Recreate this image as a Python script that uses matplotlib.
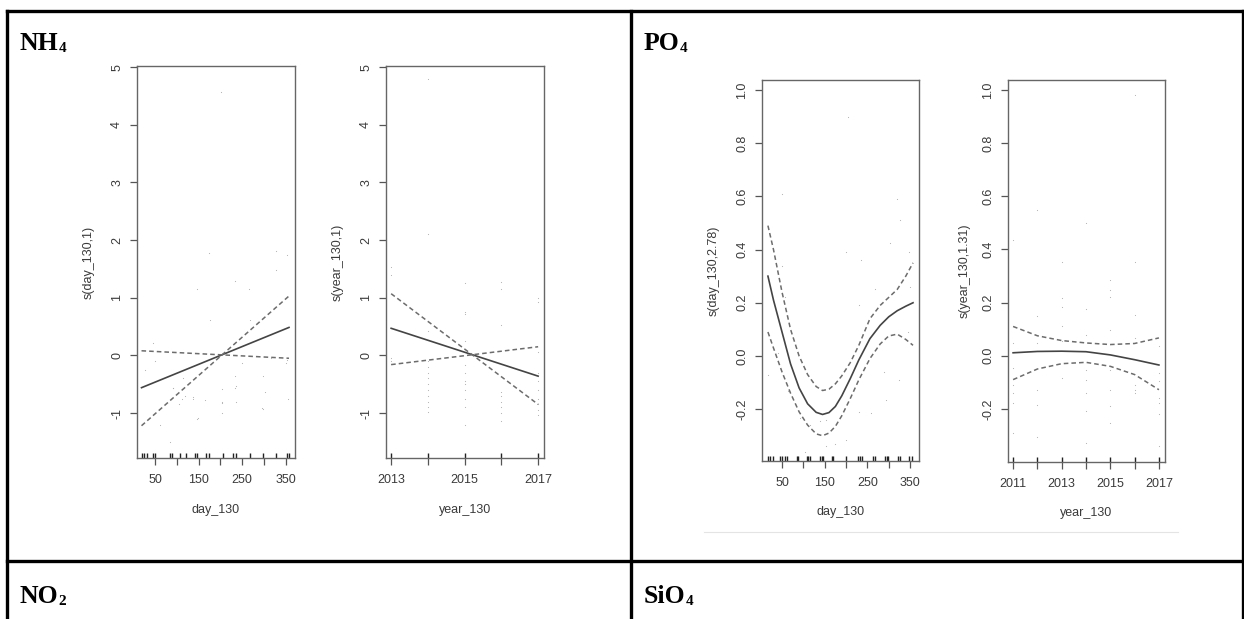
import matplotlib.pyplot as plt

W, H = 1244, 619

# ---- NH4 : s(day_130,1) ----
nh4_day_x = [19, 358]
nh4_day_fit = [-0.56, 0.485]
nh4_day_se1 = [-1.22, 1.03]
nh4_day_se2 = [0.08, -0.05]
nh4_day_res_x = [202, 175, 146, 234, 267, 328, 353, 328, 177, 268, 46, 50, 27, 92, 114, 138, 166,
                 203, 149, 61, 84, 205, 234, 234, 237, 251, 299, 303, 298, 353, 356, 351, 317,
                 146, 91, 106, 111, 120, 137, 205, 205, 236, 296]
nh4_day_res_y = [4.57, 1.77, 1.16, 1.29, 1.15, 1.81, 1.75, 1.48, 0.61, 0.61, 0.21, -0.10, -0.25, -0.56,
                 -0.40, -0.73, -0.77, -1.00, -1.09, -1.21, -1.50, -0.80, -0.56, -0.35, -0.80, -0.14,
                 -0.35, -0.63, -0.93, -0.08, -0.75, -0.14, -0.04, -1.10, -0.56, -0.85, -0.75, -0.70,
                 -0.75, -0.58, -0.83, -0.53, -0.92]
nh4_day_rug = [19, 25, 31, 46, 50, 84, 88, 107, 121, 142, 147, 167, 173, 206, 230, 236, 268, 299,
               328, 353, 357]

# ---- NH4 : s(year_130,1) ----
nh4_year_x = [2013, 2017]
nh4_year_fit = [0.47, -0.36]
nh4_year_se1 = [1.07, -0.85]
nh4_year_se2 = [-0.16, 0.15]
nh4_year_res_x = [2013] * 5 + [2014] * 13 + [2015] * 12 + [2016] * 9 + [2017] * 10
nh4_year_res_y = [1.54, 1.40, -0.04, -0.10, -0.15,
                  4.80, 2.11, 0.42, -0.10, -0.20, -0.30, -0.40, -0.50, -0.60, -0.70, -0.80, -0.90, -0.98,
                  1.25, 0.72, 0.75, 0.25, -0.16, -0.30, -0.45, -0.50, -0.60, -0.75, -0.90, -1.20,
                  1.27, 1.16, 0.52, -0.63, -0.70, -0.80, -0.90, -1.00, -1.13,
                  0.99, 0.92, 0.06, -0.30, -0.45, -0.60, -0.75, -0.85, -0.95, -1.03]
nh4_year_rug = [2013, 2014, 2015, 2016, 2017]

# ---- PO4 : s(day_130,2.78) ----
po4_day_x = [17, 30, 50, 70, 90, 110, 130, 145, 160, 175, 190, 210, 230, 256, 280, 300, 320, 340, 357]
po4_day_fit = [0.30, 0.21, 0.09, -0.03, -0.12, -0.18, -0.212, -0.22, -0.213, -0.19, -0.15, -0.085,
               -0.015, 0.065, 0.115, 0.147, 0.17, 0.187, 0.20]
po4_day_up = [0.49, 0.40, 0.24, 0.10, 0.0, -0.07, -0.115, -0.13, -0.125, -0.105, -0.075, -0.025,
              0.04, 0.14, 0.19, 0.22, 0.25, 0.30, 0.35]
po4_day_lo = [0.09, 0.03, -0.06, -0.14, -0.21, -0.26, -0.293, -0.30, -0.29, -0.265, -0.225, -0.16,
              -0.09, -0.01, 0.045, 0.075, 0.082, 0.062, 0.04]
po4_day_res_x = [51, 205, 18, 49, 57, 201, 236, 230, 267, 302, 319, 327, 347, 349, 345, 325, 294,
                 290, 259, 230, 201, 174, 154, 104, 92, 65, 41, 154, 138, 115]
po4_day_res_y = [0.61, 0.90, -0.07, 0.34, 0.22, 0.39, 0.36, 0.19, 0.25, 0.425, 0.59, 0.51, 0.39,
                 0.26, 0.09, -0.09, -0.165, -0.06, -0.215, -0.21, -0.315, -0.33, -0.34, -0.36,
                 -0.235, -0.13, 0.01, -0.24, -0.245, -0.26]
po4_day_rug = [18, 23, 30, 45, 51, 57, 62, 84, 88, 108, 112, 116, 139, 143, 147, 166, 170, 201,
               229, 233, 238, 264, 269, 291, 295, 299, 322, 326, 348, 354]

# ---- PO4 : s(year_130,1.31) ----
po4_year_x = [2011, 2012, 2013, 2014, 2015, 2016, 2017]
po4_year_fit = [0.011, 0.016, 0.017, 0.015, 0.003, -0.015, -0.035]
po4_year_up = [0.11, 0.075, 0.057, 0.048, 0.042, 0.046, 0.067]
po4_year_lo = [-0.09, -0.05, -0.03, -0.025, -0.04, -0.071, -0.128]
po4_year_res_x = [2011] * 7 + [2012] * 6 + [2013] * 6 + [2014] * 8 + [2015] * 8 + [2016] * 7 + [2017] * 7
po4_year_res_y = [0.435, 0.048, -0.046, -0.109, -0.14, -0.178, -0.29,
                  0.548, 0.15, 0.048, -0.128, -0.184, -0.305,
                  0.354, 0.216, 0.185, 0.11, 0.055, -0.084,
                  0.50, 0.175, 0.079, -0.053, -0.09, -0.14, -0.209, -0.33,
                  0.285, 0.248, 0.22, 0.098, -0.053, -0.128, -0.19, -0.253,
                  0.98, 0.354, 0.154, 0.066, -0.109, -0.128, -0.14,
                  0.035, -0.065, -0.096, -0.159, -0.178, -0.221, -0.34]
po4_year_rug = [2011, 2012, 2013, 2014, 2015, 2016, 2017]

day_ticks = [50, 100, 150, 200, 250, 300, 350]
day_ticklabels = ["50", "", "150", "", "250", "", "350"]
nh4_yticks = [-1, 0, 1, 2, 3, 4, 5]
nh4_yticklabels = ["-1", "0", "1", "2", "3", "4", "5"]
po4_yticks = [-0.2, 0.0, 0.2, 0.4, 0.6, 0.8, 1.0]
po4_yticklabels = ["-0.2", "0.0", "0.2", "0.4", "0.6", "0.8", "1.0"]

TXT = "#3a3a3a"
plt.rcParams["font.family"] = ["Liberation Sans", "DejaVu Sans"]

fig = plt.figure(figsize=(W / 100, H / 100), dpi=100)


def px_axes(l, t, r, b):
    return fig.add_axes([l / W, 1 - b / H, (r - l) / W, (b - t) / H])


def gam_panel(ax, x, fit, se1, se2, rx, ry, rug, xlim, ylim, xt, xtl, yt, ytl, xlab, ylab, ylab_x):
    ax.plot(rx, ry, ".", color="#b0b0b0", ms=1.6, mew=0)
    ax.plot(x, fit, "-", color="#444444", lw=1.2)
    ax.plot(x, se1, "--", color="#6c6c6c", lw=1.1, dashes=(3, 2))
    ax.plot(x, se2, "--", color="#6c6c6c", lw=1.1, dashes=(3, 2))
    ax.vlines(rug, 0, 0.014, transform=ax.get_xaxis_transform(), color="#222222", lw=1.0)
    ax.set_xlim(xlim)
    ax.set_ylim(ylim)
    ax.set_xticks(xt)
    ax.set_xticklabels(xtl)
    ax.set_yticks(yt)
    ax.set_yticklabels(ytl, rotation=90, va="center")
    ax.tick_params(length=5, width=0.9, color="#555555", labelcolor=TXT, labelsize=9)
    ax.tick_params(axis="x", pad=6.5)
    ax.tick_params(axis="y", pad=5)
    for s in ax.spines.values():
        s.set_color("#666666")
        s.set_linewidth(1.0)
    ax.set_xlabel(xlab, fontsize=9, color=TXT)
    ax.set_ylabel(ylab, fontsize=9, color=TXT)
    ax.xaxis.set_label_coords(0.5, -0.118)
    ax.yaxis.set_label_coords(ylab_x, 0.5)


ax1 = px_axes(137, 66, 295, 458)
gam_panel(ax1, nh4_day_x, nh4_day_fit, nh4_day_se1, nh4_day_se2, nh4_day_res_x, nh4_day_res_y,
          nh4_day_rug, (8.6, 371.8), (-1.78, 5.02), day_ticks, day_ticklabels,
          nh4_yticks, nh4_yticklabels, "day_130", "s(day_130,1)", -0.27)

ax2 = px_axes(386, 66, 544, 458)
gam_panel(ax2, nh4_year_x, nh4_year_fit, nh4_year_se1, nh4_year_se2, nh4_year_res_x, nh4_year_res_y,
          nh4_year_rug, (2012.86, 2017.16), (-1.78, 5.02), [2013, 2014, 2015, 2016, 2017],
          ["2013", "", "2015", "", "2017"], nh4_yticks, nh4_yticklabels,
          "year_130", "s(year_130,1)", -0.27)

ax3 = px_axes(762, 80, 919, 461)
gam_panel(ax3, po4_day_x, po4_day_fit, po4_day_up, po4_day_lo, po4_day_res_x, po4_day_res_y,
          po4_day_rug, (3.1, 371), (-0.395, 1.0375), day_ticks, day_ticklabels,
          po4_yticks, po4_yticklabels, "day_130", "s(day_130,2.78)", -0.27)

ax4 = px_axes(1008, 80, 1165, 462)
gam_panel(ax4, po4_year_x, po4_year_fit, po4_year_up, po4_year_lo, po4_year_res_x, po4_year_res_y,
          po4_year_rug, (2010.79, 2017.25), (-0.4, 1.0375), po4_year_x,
          ["2011", "", "2013", "", "2015", "", "2017"], po4_yticks, po4_yticklabels,
          "year_130", "s(year_130,1.31)", -0.24)

# table frame drawn in pixel coordinates on a background axes
bg = fig.add_axes([0, 0, 1, 1], zorder=-1)
bg.set_xlim(0, W)
bg.set_ylim(H, 0)
bg.axis("off")
frame = dict(color="black", lw=2.4, solid_capstyle="projecting")
bg.plot([6.5, 1243], [10.5, 10.5], **frame)
bg.plot([6.5, 1243], [561, 561], **frame)
bg.plot([6.5, 6.5], [10.5, H], **frame)
bg.plot([631, 631], [10.5, H], **frame)
bg.plot([1243, 1243], [10.5, H], **frame)
bg.plot([704, 1178], [532, 532], color="#e4e4e4", lw=0.8)

# cell titles: bold serif, digit set smaller like a subscript
titles = [("NH", "4", 20, 50.5), ("PO", "4", 644, 50.5), ("NO", "2", 20, 603), ("SiO", "4", 644, 603)]
for main, sub, tx, ty in titles:
    t = bg.text(tx, ty, main, fontsize=18.5, fontweight="bold", family="Liberation Serif",
                va="baseline", ha="left")
    bg.annotate(sub, xy=(1, 0), xycoords=t, fontsize=11, fontweight="bold",
                family="Liberation Serif", va="bottom", ha="left")

fig.savefig("out.png", dpi=100)
